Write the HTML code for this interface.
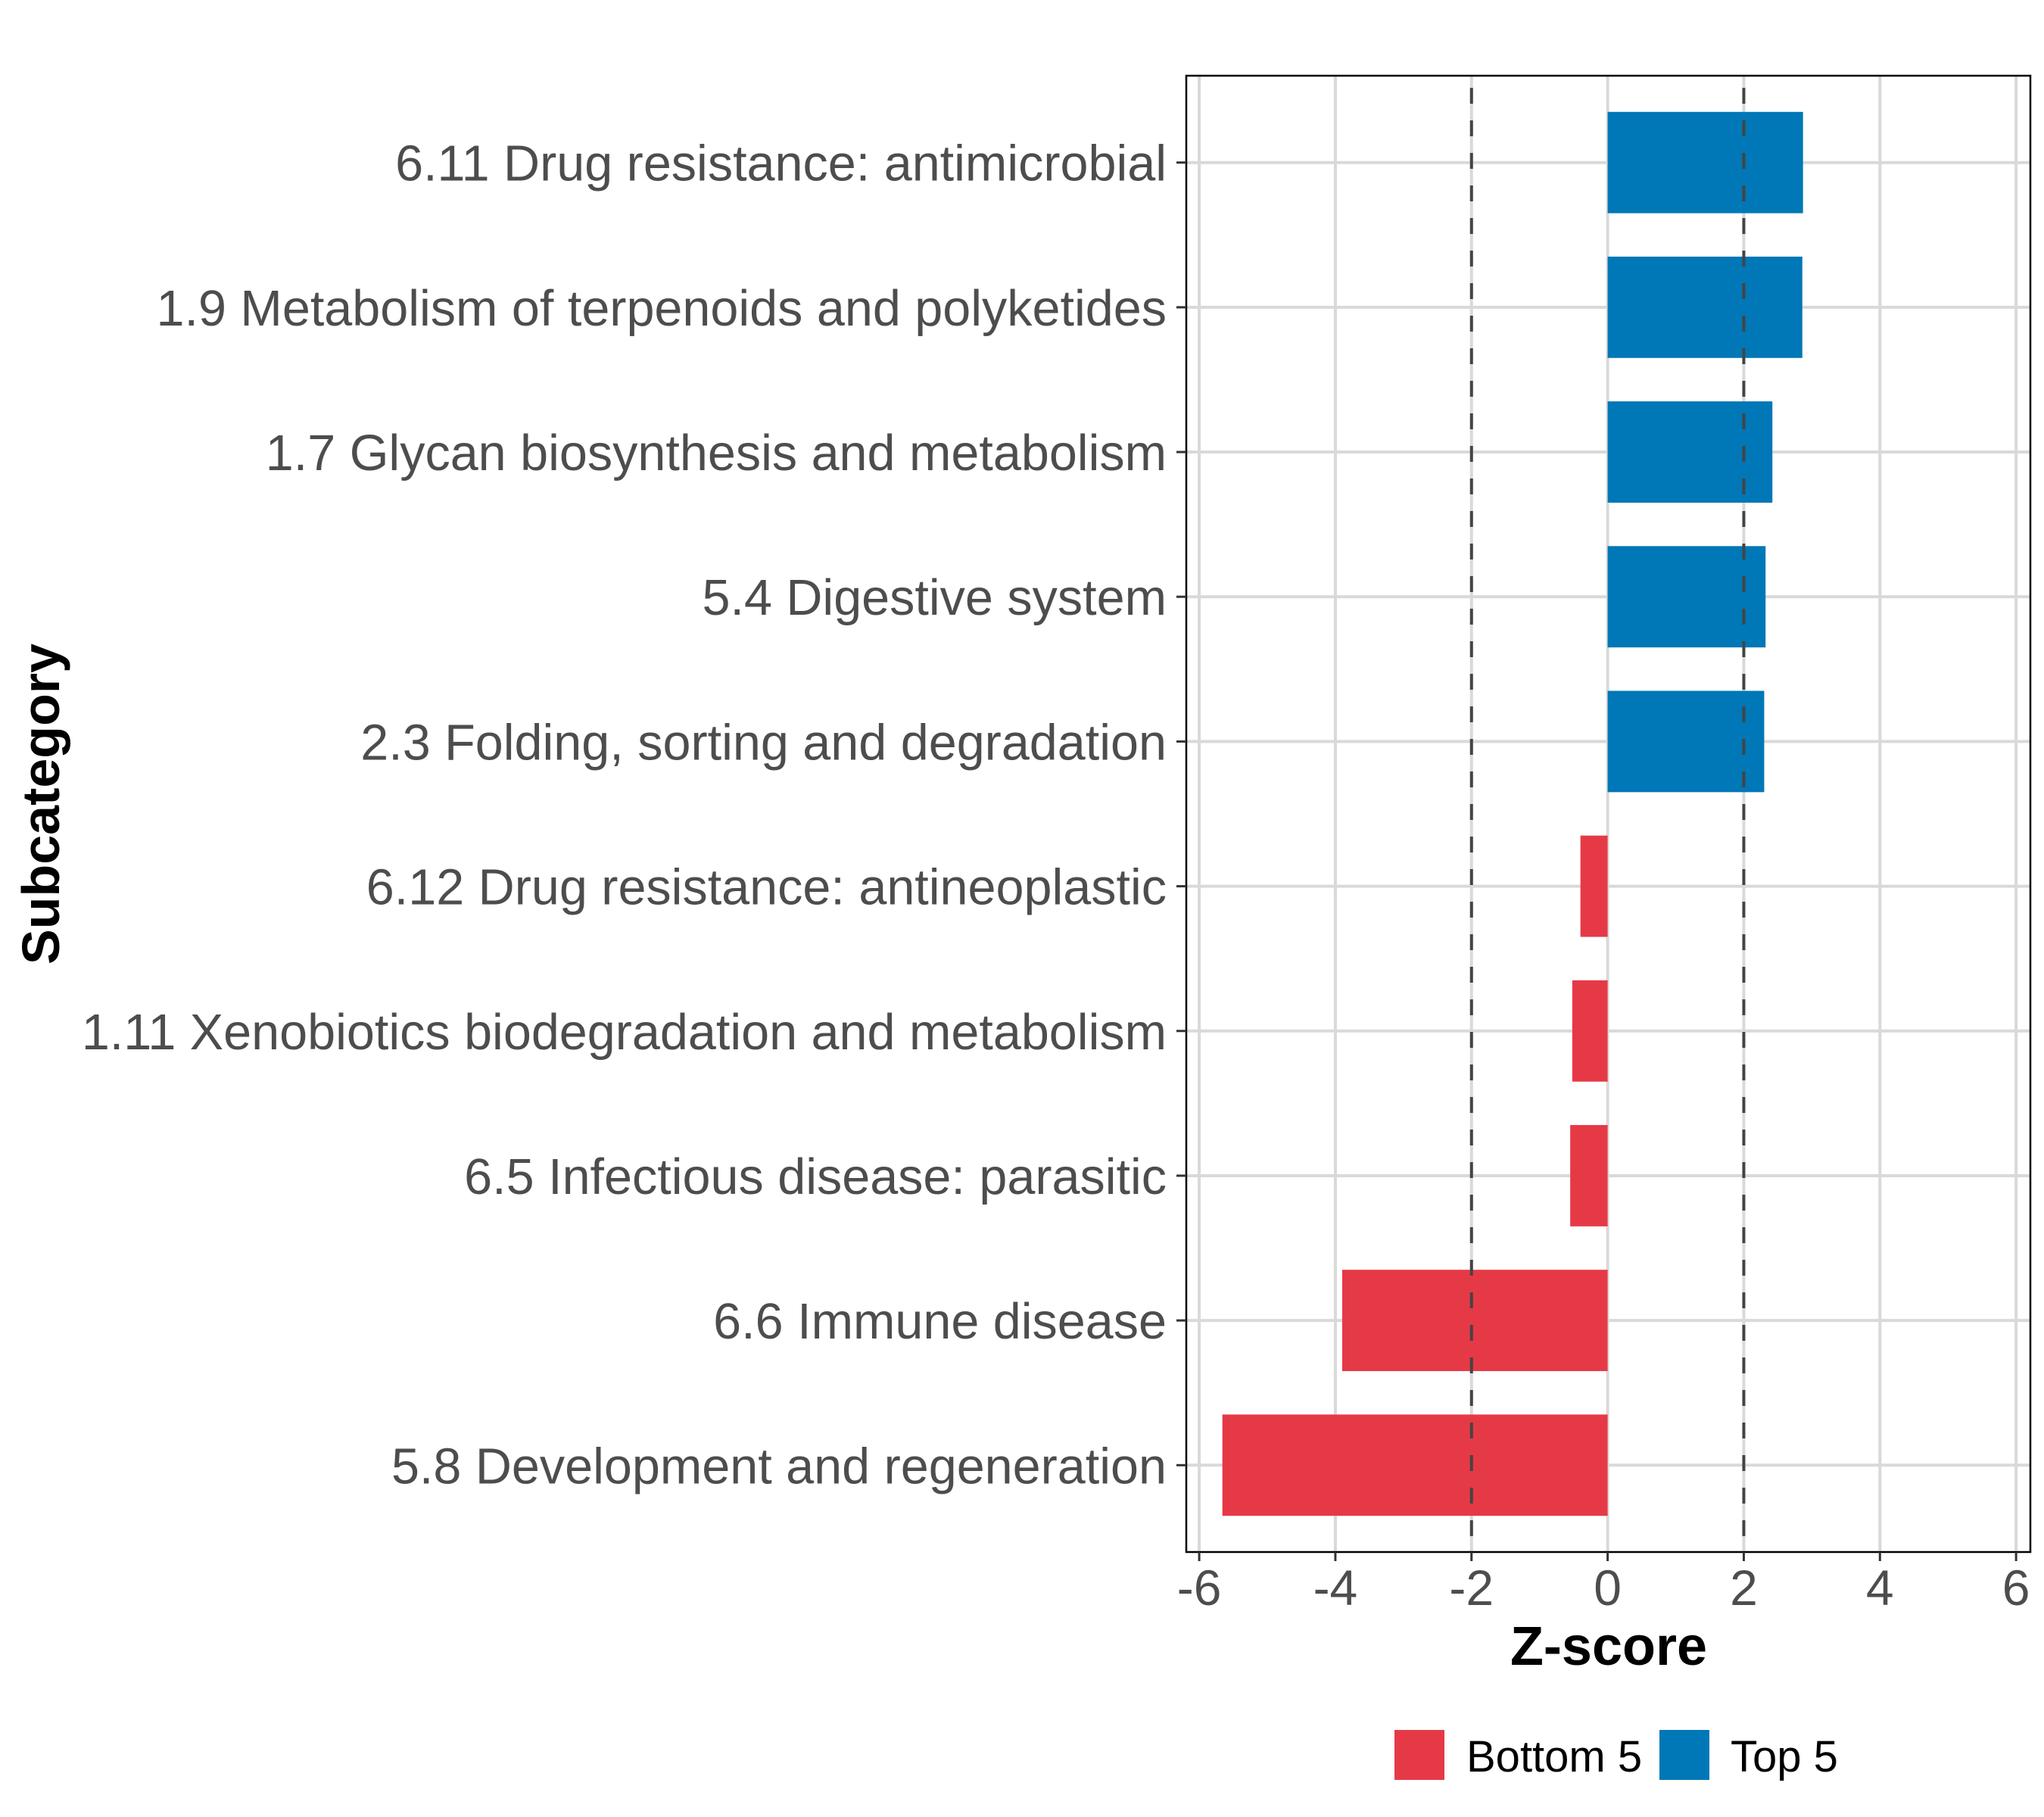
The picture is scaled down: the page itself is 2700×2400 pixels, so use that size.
<!DOCTYPE html>
<html><head><meta charset="utf-8"><style>
html,body{margin:0;padding:0;background:#fff;}
svg{display:block;font-family:"Liberation Sans",Arial,sans-serif;}
</style></head><body>
<svg id="chart" width="2700" height="2400" viewBox="0 0 2700 2400" xmlns="http://www.w3.org/2000/svg">
<rect x="0" y="0" width="2700" height="2400" fill="#fff"/>
<g id="grid"></g>
<g id="bars"></g>
<g id="refs"></g>
<rect x="1567" y="100" width="1115" height="1950" fill="none" stroke="#000" stroke-width="2.5"/>
<g id="yaxis"></g>
<g id="xaxis"></g>
<text x="2125" y="2199" font-size="72" font-weight="bold" text-anchor="middle" fill="#000">Z-score</text>
<text x="0" y="0" font-size="70" font-weight="bold" text-anchor="middle" fill="#000" transform="translate(78,1062) rotate(-90)">Subcategory</text>
<g>
<g>
<rect x="1842" y="2285" width="66" height="66" fill="#E63946"/>
<text x="1937" y="2340" font-size="58" fill="#000">Bottom 5</text>
</g>
<g>
<rect x="2192" y="2285" width="66" height="66" fill="#0077B6"/>
<text x="2286" y="2340" font-size="58" fill="#000">Top 5</text>
</g>
</g>
</svg>
<script>
const categories = ["6.11 Drug resistance: antimicrobial","1.9 Metabolism of terpenoids and polyketides","1.7 Glycan biosynthesis and metabolism","5.4 Digestive system","2.3 Folding, sorting and degradation","6.12 Drug resistance: antineoplastic","1.11 Xenobiotics biodegradation and metabolism","6.5 Infectious disease: parasitic","6.6 Immune disease","5.8 Development and regeneration"];
const zscores = [2.87, 2.86, 2.42, 2.32, 2.30, -0.40, -0.52, -0.55, -3.90, -5.66];
const groups = ["Top 5","Top 5","Top 5","Top 5","Top 5","Bottom 5","Bottom 5","Bottom 5","Bottom 5","Bottom 5"];
const xTicks = [-6, -4, -2, 0, 2, 4, 6];
const refLines = [-2, 2];

const NS = "http://www.w3.org/2000/svg";
const panel = {left:1567, right:2682, top:100, bottom:2050};
const xMin = -6.19, xMax = 6.21;
function xs(v){ return panel.left + (v - xMin) / (xMax - xMin) * (panel.right - panel.left); }
const step = (panel.bottom - panel.top) / (categories.length - 1 + 1.2);
function ys(i){ return panel.top + (0.6 + i) * step; }
const colors = {"Top 5":"#0077B6","Bottom 5":"#E63946"};
function mk(tag, attrs, parent){ const e=document.createElementNS(NS,tag); for(const k in attrs) e.setAttribute(k,attrs[k]); parent.appendChild(e); return e; }

const grid=document.getElementById('grid'), bars=document.getElementById('bars'), refs=document.getElementById('refs'), yaxis=document.getElementById('yaxis'), xaxis=document.getElementById('xaxis');

xTicks.forEach(t=>{
  const l=mk('line',{x1:xs(t),x2:xs(t),y1:panel.top,y2:panel.bottom,stroke:'#d9d9d9','stroke-width':4},grid);
  
  
  const tk=mk('line',{x1:xs(t),x2:xs(t),y1:panel.bottom,y2:panel.bottom+12,stroke:'#333','stroke-width':3},xaxis);
  
  
  const tx=mk('text',{x:xs(t),y:2120,'font-size':66,'text-anchor':'middle',fill:'#4d4d4d'},xaxis);
  tx.textContent=String(t);
  
  
});
categories.forEach((c,i)=>{
  const y=ys(i);
  const l=mk('line',{x1:panel.left,x2:panel.right,y1:y,y2:y,stroke:'#d9d9d9','stroke-width':4},grid);
  
  
  const tk=mk('line',{x1:panel.left-13,x2:panel.left,y1:y,y2:y,stroke:'#333','stroke-width':3},yaxis);
  
  
  const tx=mk('text',{x:1541,y:y+24,'font-size':66.5,'text-anchor':'end',fill:'#4d4d4d'},yaxis);
  tx.textContent=c;
  
  
  const v=zscores[i];
  const x0=xs(Math.min(0,v)), x1=xs(Math.max(0,v));
  const bh=step*0.7;
  const b=mk('rect',{x:x0,y:y-bh/2,width:x1-x0,height:bh,fill:colors[groups[i]]},bars);
  
  
});
refLines.forEach(r=>{
  const l=mk('line',{x1:xs(r),x2:xs(r),y1:panel.top,y2:panel.bottom,stroke:'#444','stroke-width':4,'stroke-dasharray':'21 22','stroke-dashoffset':'-16'},refs);
  
  
});
</script>
</body></html>
